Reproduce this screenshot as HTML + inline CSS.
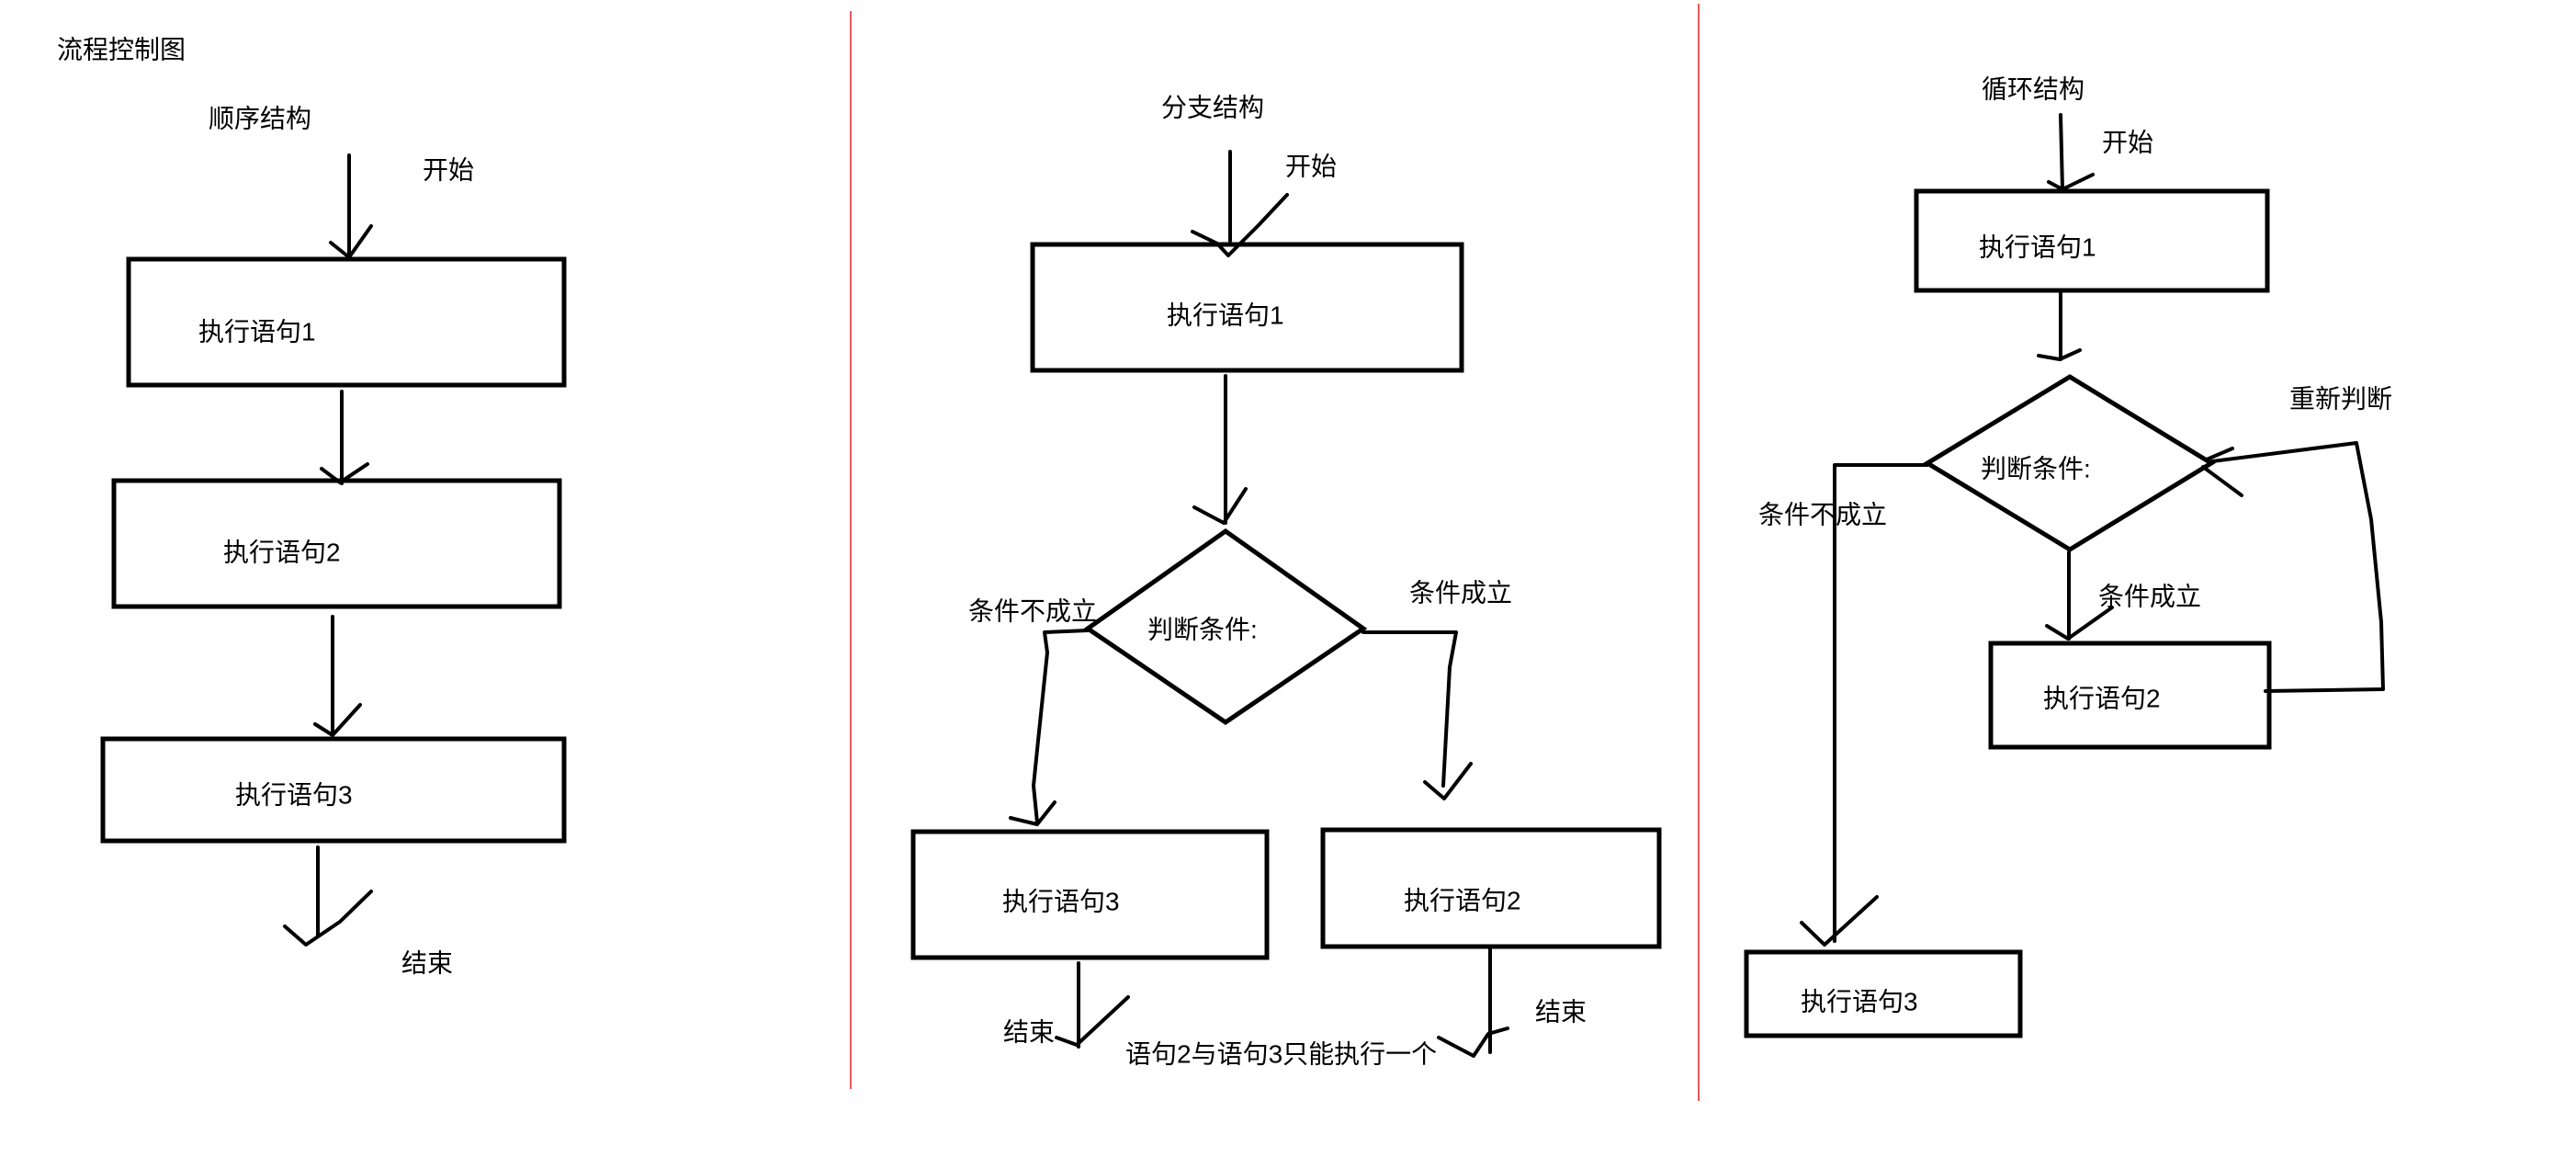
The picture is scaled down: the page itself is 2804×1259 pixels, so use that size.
<!DOCTYPE html>
<html><head><meta charset="utf-8"><style>
html,body{margin:0;padding:0;background:#fff;}
svg{display:block;}
text{font-family:"Liberation Sans","Noto Sans CJK SC",sans-serif;font-size:28px;fill:#000;dominant-baseline:central;}
.b{fill:none;stroke:#000;stroke-width:5;}
.l{fill:none;stroke:#000;stroke-width:4;stroke-linecap:round;stroke-linejoin:round;}
.r{stroke:#e0242a;stroke-width:1.5;}
</style></head><body>
<svg width="2804" height="1259" viewBox="0 0 2804 1259" xmlns="http://www.w3.org/2000/svg">
<line class="r" x1="926" y1="12" x2="926" y2="1185"/>
<line class="r" x1="1849" y1="4" x2="1849" y2="1198"/>

<!-- Sequence -->
<text x="62" y="54">流程控制图</text>
<text x="227" y="129">顺序结构</text>
<text x="460" y="185">开始</text>
<path class="l" d="M380 169 L380 281 M360 264 L380 280 L404 246"/>
<rect class="b" x="140" y="282" width="474" height="137"/>
<text x="216" y="361">执行语句1</text>
<path class="l" d="M372 426 L372 526 M350 510 L370 525 L400 505"/>
<rect class="b" x="124" y="523" width="485" height="137"/>
<text x="243" y="601">执行语句2</text>
<path class="l" d="M362 671 L362 800 M343 788 L362 800 L392 767"/>
<rect class="b" x="112" y="804" width="502" height="111"/>
<text x="256" y="865">执行语句3</text>
<path class="l" d="M346 922 L346 1018 M310 1008 L333 1028 L370 1003 L404 970"/>
<text x="437" y="1048">结束</text>

<!-- Branch -->
<text x="1264" y="117">分支结构</text>
<text x="1399" y="181">开始</text>
<path class="l" d="M1339 165 L1339 262 M1298 252 L1325 265 L1337 278 L1370 245 L1401 212"/>
<rect class="b" x="1124" y="266" width="467" height="137"/>
<text x="1270" y="343">执行语句1</text>
<path class="l" d="M1334 409 L1334 569 M1300 552 L1332 569 L1356 532"/>
<polygon class="b" points="1334,578 1484,684 1334,786 1184,684"/>
<text x="1249" y="685">判断条件:</text>
<text x="1054" y="665">条件不成立</text>
<text x="1534" y="645">条件成立</text>
<path class="l" d="M1184 686 L1137 688 L1140 710 L1130 806 L1125 855 L1129 895 M1100 890 L1129 897 L1148 873"/>
<path class="l" d="M1484 688 L1585 688 L1578 726 L1571 855 M1551 851 L1572 869 L1601 831"/>
<rect class="b" x="994" y="905" width="385" height="137"/>
<text x="1091" y="981">执行语句3</text>
<rect class="b" x="1440" y="903" width="366" height="127"/>
<text x="1528" y="980">执行语句2</text>
<path class="l" d="M1174 1048 L1174 1139 M1150 1129 L1172 1137 L1228 1085"/>
<text x="1092" y="1123">结束</text>
<path class="l" d="M1622 1030 L1622 1145 M1566 1129 L1604 1149 L1620 1125 L1641 1119"/>
<text x="1671" y="1101">结束</text>
<text x="1225" y="1147">语句2与语句3只能执行一个</text>

<!-- Loop -->
<text x="2157" y="97">循环结构</text>
<text x="2288" y="155">开始</text>
<path class="l" d="M2243 125 L2245 206 M2230 198 L2245 206 L2278 190"/>
<rect class="b" x="2086" y="208" width="382" height="108"/>
<text x="2154" y="269">执行语句1</text>
<path class="l" d="M2243 319 L2243 391 M2219 387 L2242 391 L2264 381"/>
<polygon class="b" points="2253,410 2407,504 2253,598 2098,504"/>
<text x="2156" y="510">判断条件:</text>
<path class="l" d="M2098 506 L1997 506 L1997 1024 M1961 1004 L1986 1028 L2043 976"/>
<text x="1914" y="560">条件不成立</text>
<path class="l" d="M2252 601 L2252 695 M2228 681 L2251 695 L2299 661"/>
<text x="2284" y="649">条件成立</text>
<rect class="b" x="2167" y="700" width="303" height="113"/>
<text x="2224" y="760">执行语句2</text>
<path class="l" d="M2466 752 L2594 750 L2592 677 L2581 565 L2565 482 L2408 502 M2398 508 L2440 539 M2402 500 L2430 488"/>
<text x="2492" y="434">重新判断</text>
<rect class="b" x="1901" y="1036" width="298" height="91"/>
<text x="1960" y="1090">执行语句3</text>
</svg>
</body></html>
